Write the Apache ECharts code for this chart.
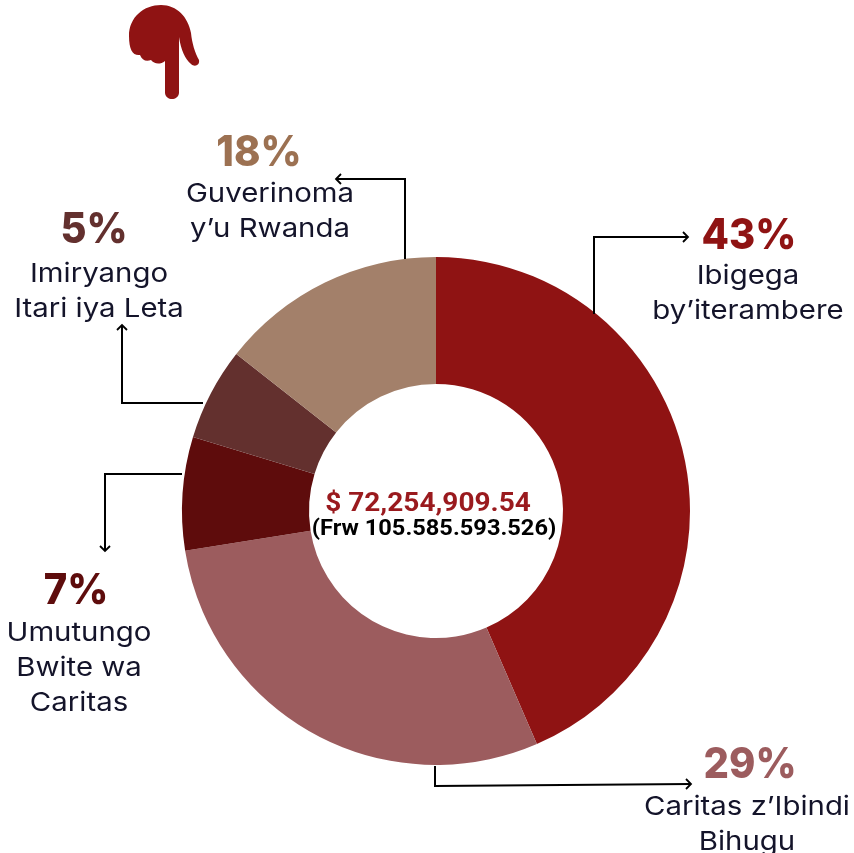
<!DOCTYPE html>
<html><head><meta charset="utf-8">
<style>html,body{margin:0;padding:0;background:#fff}#c{width:854px;height:853px}</style>
<script src="https://cdn.jsdelivr.net/npm/echarts@6/dist/echarts.min.js"></script></head>
<body><div id="c"></div>
<script>
const categories = ["Ibigega by’iterambere","Caritas z’Ibindi Bihugu","Umutungo Bwite wa Caritas","Imiryango Itari iya Leta","Guverinoma y’u Rwanda"];
const sliceValues = [43.5,29,7.2,5.9,14.4];
const percentLabels = ["43%","29%","7%","5%","18%"];
const nameLines = [["Ibigega","by’iterambere"],["Caritas z’Ibindi","Bihugu"],["Umutungo","Bwite wa","Caritas"],["Imiryango","Itari iya Leta"],["Guverinoma","y’u Rwanda"]];
const sliceColors = ["#8f1313","#9c5c5e","#5e0c0c","#63302e","#a3806a"];
const percentColors = ["#8f1313","#9c5c5e","#5e0c0c","#63302e","#9c7152"];
const totalUsd = "$ 72,254,909.54";
const totalFrw = "(Frw 105.585.593.526)";

const pctPos = [[749,236],[750,765],[76,591],[94,230],[259,153]];
const namePos = [[748,276],[747,807],[79,633],[99,274],[270,194]];
const lineH = 35;
const links = [
 {pts:[[594,314],[594,237],[688,237]],head:[[683,232],[688,237],[683,242]]},
 {pts:[[435,766],[435,786],[691,784]],head:[[686,779],[691,784],[686,789]]},
 {pts:[[182,474],[105,474],[105,551]],head:[[100,546],[105,551],[110,546]]},
 {pts:[[203,403],[122,403],[122,325]],head:[[117,330],[122,325],[127,330]]},
 {pts:[[405,259],[405,179],[336,179]],head:[[341,174],[336,179],[341,184]]}
];
const handPath = 'M129 36 C129 17 144 5 161 5 C177 5 188 17 191 33 C192 43 195 53 199 60 C200 66 194 67 191 64 C185 59 181 50 179 37 L179 93 C178 101 166 101 165 93 L165 61 C160 65 154 64 151 60 C146 62 142 60 140 55 C133 56 129 50 129 36 Z';
echarts.graphic.registerShape('handIcon', echarts.graphic.extendPath(handPath, {}));

const g = [];
links.forEach(l=>{
 g.push({type:'polyline',shape:{points:l.pts},style:{stroke:'#000',lineWidth:2,fill:null},z:5});
 g.push({type:'polyline',shape:{points:l.head},style:{stroke:'#000',lineWidth:1.8,fill:null},z:5});
});
categories.forEach((c,i)=>{
 g.push({type:'text',x:pctPos[i][0],y:pctPos[i][1],scaleX:0.93,style:{text:percentLabels[i],fill:percentColors[i],font:'800 43px Inter',align:'center',verticalAlign:'middle'},z:6});
 nameLines[i].forEach((t,j)=>{
  g.push({type:'text',x:namePos[i][0],y:namePos[i][1]+j*lineH,scaleX:1.13,style:{text:t,fill:'#14142a',font:'400 26px Inter',align:'center',verticalAlign:'middle'},z:6});
 });
});
g.push({type:'text',x:428,y:505,scaleX:1.12,style:{text:totalUsd,fill:'#9a1a1e',font:'700 25px Roboto',align:'center',verticalAlign:'middle'},z:6});
g.push({type:'text',x:434,y:529,scaleX:1.05,style:{text:totalFrw,fill:'#000',font:'700 22.5px Roboto',align:'center',verticalAlign:'middle'},z:6});
g.push({type:'handIcon',z:6,style:{fill:'#8f1313'}});

const chart = echarts.init(document.getElementById('c'),null,{renderer:'canvas'});
chart.setOption({
 animation:false,
 backgroundColor:'#fff',
 series:[{type:'pie',center:[436,511],radius:[127,254],startAngle:90,clockwise:true,
  label:{show:false},labelLine:{show:false},silent:true,
  data:categories.map((c,i)=>({name:c,value:sliceValues[i],itemStyle:{color:sliceColors[i]}}))}],
 graphic:g
});
</script></body></html>
